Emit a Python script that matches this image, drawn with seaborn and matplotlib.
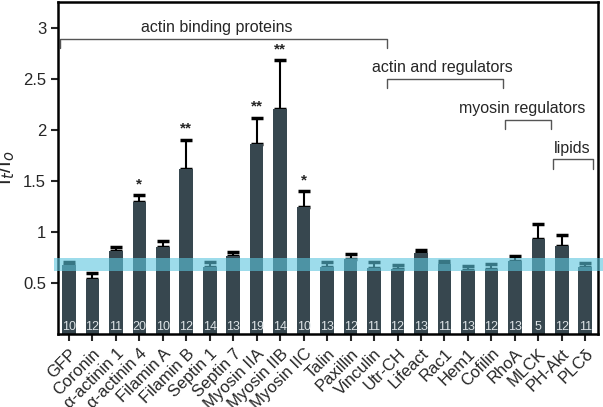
import numpy as np
import pandas as pd
import matplotlib
matplotlib.use('Agg')
import matplotlib.pyplot as plt
import seaborn as sns

# Data
names = ['GFP', 'Coronin', 'α-actinin 1', 'α-actinin 4', 'Filamin A', 'Filamin B',
         'Septin 1', 'Septin 7', 'Myosin IIA', 'Myosin IIB', 'Myosin IIC', 'Talin',
         'Paxillin', 'Vinculin', 'Utr-CH', 'Lifeact', 'Rac1', 'Hem1', 'Cofilin',
         'RhoA', 'MLCK', 'PH-Akt', 'PLCδ']
ratio = [0.68, 0.54, 0.81, 1.29, 0.85, 1.62, 0.66, 0.76, 1.86, 2.20, 1.24, 0.66,
         0.735, 0.65, 0.64, 0.79, 0.69, 0.63, 0.64, 0.715, 0.93, 0.86, 0.66]
err_top = [0.71, 0.60, 0.85, 1.36, 0.91, 1.90, 0.71, 0.80, 2.12, 2.68, 1.40, 0.71,
           0.78, 0.71, 0.68, 0.82, 0.72, 0.67, 0.69, 0.76, 1.08, 0.97, 0.70]
n_cells = [10, 12, 11, 20, 10, 12, 14, 13, 19, 14, 10, 13, 12, 11, 12, 13, 11, 13,
           12, 13, 5, 12, 11]
stars = {3: '*', 5: '**', 8: '**', 9: '**', 10: '*'}
groups = [('actin binding proteins', -0.36, 13.55, 2.89, 6.3),
          ('actin and regulators', 13.55, 18.48, 2.50, 15.9),
          ('myosin regulators', 18.6, 20.54, 2.10, 19.3),
          ('lipids', 20.62, 22.35, 1.71, 21.45)]

df = pd.DataFrame({'name': names, 'ratio': ratio})

sns.set_style('ticks')
plt.rcParams['font.family'] = ['Liberation Sans', 'DejaVu Sans']

fig = plt.figure(figsize=(6.03, 4.07), dpi=100)
ax = fig.add_axes([0.096, 0.179, 0.896, 0.816])

bar_color = '#37474f'
sns.barplot(data=df, x='name', y='ratio', color=bar_color, width=0.58,
            errorbar=None, ax=ax, saturation=1, zorder=2, linewidth=0,
            edgecolor='none')

x = np.arange(len(names))
yerr = np.array(err_top) - np.array(ratio)
ax.errorbar(x, ratio, yerr=[np.zeros_like(yerr), yerr], fmt='none',
            ecolor='black', elinewidth=1.5, capsize=4, capthick=2.5, zorder=1)

for i, n in enumerate(n_cells):
    ax.text(i, 0.07, str(n), ha='center', va='center', color='#dde3e6', fontsize=9,
            zorder=3)

for i, s in stars.items():
    ax.text(i, err_top[i] + 0.04, s, ha='center', va='bottom', fontsize=11,
            fontweight='bold')

for label, x0, x1, yb, xt in groups:
    ax.plot([x0, x0, x1, x1], [yb - 0.09, yb, yb, yb - 0.09], color='#555555', lw=1,
            clip_on=False)
    ax.text(xt, yb + 0.035, label, ha='center', va='bottom', fontsize=11.5)

ax.axhspan(0.62, 0.75, xmin=-0.008, xmax=1.01, color='#5cc6de', alpha=0.6,
           lw=0, clip_on=False, zorder=5)

ax.set_xlim(-0.47, 22.55)
ax.set_ylim(0, 3.25)
ax.set_yticks([0.5, 1, 1.5, 2, 2.5, 3])
ax.set_yticklabels(['0.5', '1', '1.5', '2', '2.5', '3'])
ax.set_xticks(x)
ax.set_xticklabels(names, rotation=45, ha='right', rotation_mode='anchor', fontsize=12)
ax.tick_params(axis='y', labelsize=12, width=1.5, length=5)
ax.tick_params(axis='x', width=1.5, length=5)
ax.set_xlabel('')
ax.set_ylabel('I$_t$/I$_o$', fontsize=15)
for sp in ax.spines.values():
    sp.set_linewidth(1.8)
    sp.set_color('black')

fig.savefig('out.png', dpi=100)
